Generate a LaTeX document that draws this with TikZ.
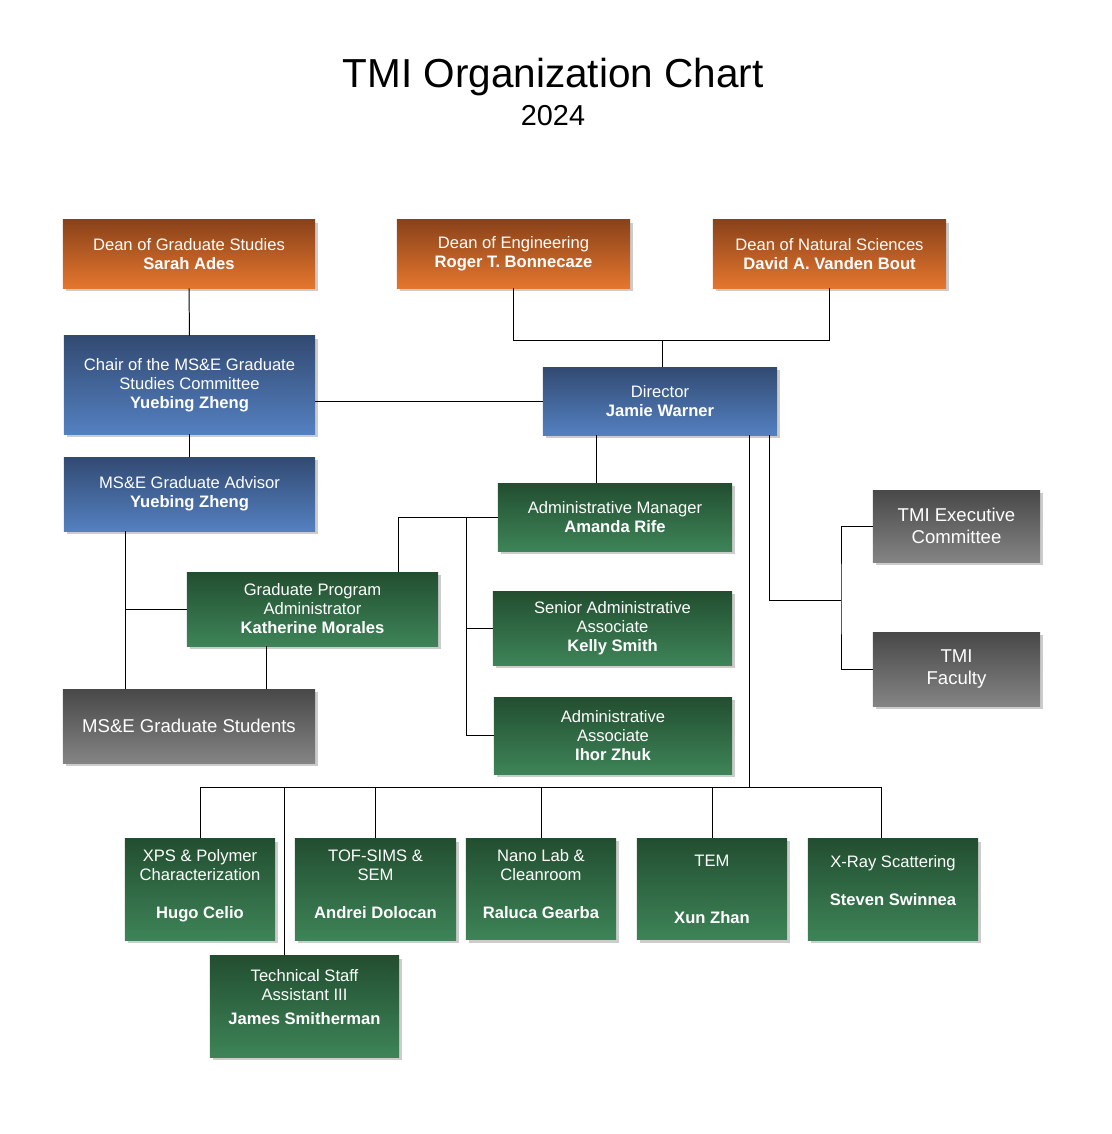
\documentclass[tikz,border=0pt]{standalone}
\usepackage{fontspec}
\setmainfont{Liberation Sans}
\usepackage{tikz}
\usetikzlibrary{calc,shadows}
\definecolor{orangetop}{RGB}{138, 66, 26}
\definecolor{orangebot}{RGB}{228, 118, 46}
\definecolor{bluetop}{RGB}{50, 74, 114}
\definecolor{bluebot}{RGB}{84, 128, 192}
\definecolor{greentop}{RGB}{34, 78, 48}
\definecolor{greenbot}{RGB}{62, 132, 88}
\definecolor{greytop}{RGB}{72, 72, 72}
\definecolor{greybot}{RGB}{132, 132, 132}

\begin{document}
\begin{tikzpicture}[x=0.025cm,y=-0.025cm,
  orgbox/.style={text=white,align=center,inner sep=2pt,
    font=\fontsize{11.8}{13.5}\selectfont,
    drop shadow={shadow xshift=2pt,shadow yshift=-2pt,fill=black,opacity=0.2}},
  dean/.style={orgbox,top color=orangetop,bottom color=orangebot,minimum height=1.7cm},
  lead/.style={orgbox,top color=bluetop,bottom color=bluebot},
  staff/.style={orgbox,top color=greentop,bottom color=greenbot},
  group/.style={orgbox,top color=greytop,bottom color=greybot,
    font=\fontsize{13.2}{15.5}\selectfont},
  lab/.style={staff,minimum height=2.54cm},
  wire/.style={black,line width=0.7pt}]
\useasboundingbox (0,0) rectangle (1112,1134);

% title
\node[font=\fontsize{28.8}{32}\selectfont] (title) at (553,77) {TMI Organization Chart};
\node[font=\fontsize{20.5}{24}\selectfont] (year) at (553,116) {2024};

% deans
\node[dean,minimum width=6.3cm] (dgs) at (189,254) {Dean of Graduate Studies\\\textbf{Sarah Ades}};
\node[dean,minimum width=5.825cm] (deng) at (513.5,254) {Dean of Engineering\\\textbf{Roger T. Bonnecaze}};
\node[dean,minimum width=5.825cm] (dns) at (829.5,254) {Dean of Natural Sciences\\\textbf{David A. Vanden Bout}};

% graduate side
\node[lead,minimum width=6.275cm,minimum height=2.45cm] (chair) at (189.5,385) {Chair of the MS\&E Graduate\\Studies Committee\\\textbf{Yuebing Zheng}};
\node[lead,minimum width=5.85cm,minimum height=1.7cm] (director) at (660,401) {Director\\\textbf{Jamie Warner}};
\node[lead,minimum width=6.275cm,minimum height=1.85cm] (advisor) at (189.5,494) {MS\&E Graduate Advisor\\\textbf{Yuebing Zheng}};
\node[staff,minimum width=6.275cm,minimum height=1.85cm] (gradprog) at (312.5,609) {Graduate Program\\Administrator\\\textbf{Katherine Morales}};
\node[group,minimum width=6.3cm,minimum height=1.85cm] (students) at (189,726) {MS\&E Graduate Students};

% admin staff
\node[staff,minimum width=5.85cm,minimum height=1.7cm] (adminmgr) at (615,517) {Administrative Manager\\\textbf{Amanda Rife}};
\node[staff,minimum width=5.975cm,minimum height=1.85cm] (senior) at (612.5,628) {Senior Administrative\\Associate\\\textbf{Kelly Smith}};
\node[staff,minimum width=5.95cm,minimum height=1.925cm] (assoc) at (613,735.5) {Administrative\\Associate\\\textbf{Ihor Zhuk}};

% committees
\node[group,minimum width=4.175cm,minimum height=1.8cm] (exec) at (956.5,526) {TMI Executive\\Committee};
\node[group,minimum width=4.175cm,minimum height=1.85cm] (faculty) at (956.5,669) {TMI\\Faculty};

% labs
\node[lab,minimum width=3.75cm] (xps) at (200,889.5) {XPS \& Polymer\\Characterization\\[13.5pt]\textbf{Hugo Celio}\\[-6pt]\mbox{}};
\node[lab,minimum width=4.025cm] (tof) at (375.5,889.5) {TOF-SIMS \&\\SEM\\[13.5pt]\textbf{Andrei Dolocan}\\[-6pt]\mbox{}};
\node[lab,minimum width=3.75cm] (nano) at (541,889) {Nano Lab \&\\Cleanroom\\[13.5pt]\textbf{Raluca Gearba}\\[-6pt]\mbox{}};
\node[lab,minimum width=3.75cm] (tem) at (712,889) {TEM\\~\\~\\\textbf{Xun Zhan}};
\node[lab,minimum width=4.25cm] (xray) at (893,889.5) {X-Ray Scattering\\~\\\textbf{Steven Swinnea}\\~};
\node[lab,minimum width=4.725cm] (tech) at (304.5,1006.5) {Technical Staff\\Assistant III\\[3pt]\textbf{James Smitherman}\\~};

% branch points
\coordinate (topbus) at (662,340);
\coordinate (mgrdrop) at (596,435);
\coordinate (labdrop) at (749,435);
\coordinate (labbus) at (749,787);
\coordinate (facdrop) at (769,435);
\coordinate (facjoin) at (841,600);
\coordinate (gpjoin) at (398,517);
\coordinate (staffbus) at (466,517);
\coordinate (advdrop) at (125,531);
\coordinate (gpdrop) at (266,646);

% connectors
\draw[wire] (dgs.south) -- (chair.north);
\draw[wire] (chair.south) -- (advisor.north);
\draw[wire] (deng.south) -- (deng.south |- topbus) -- (dns.south |- topbus) -- (dns.south);
\draw[wire] (topbus) -- (topbus |- director.north);
\draw[wire] (director.west) -- (director.west -| chair.east);
\draw[wire] (mgrdrop) -- (mgrdrop |- adminmgr.north);
\draw[wire] (labdrop) -- (labbus);
\draw[wire] (xps.north |- labbus) -- ([xshift=-0.3cm]xray.north |- labbus);
\foreach \b in {xps,tof,nano,tem}
  \draw[wire] (\b.north) -- (\b.north |- labbus);
\draw[wire] ([xshift=-0.3cm]xray.north) -- ([xshift=-0.3cm]xray.north |- labbus);
\draw[wire] ([xshift=-0.49cm]tech.north) -- ([xshift=-0.49cm]tech.north |- labbus);
\draw[wire] (facdrop) |- (facjoin);
\draw[wire] (exec.west) -| (facjoin) |- (faculty.west);
\draw[wire] (adminmgr.west) -- (gpjoin) -- (gpjoin |- gradprog.north);
\draw[wire] (staffbus) |- (assoc.west);
\draw[wire] (staffbus |- senior.west) -- (senior.west);
\draw[wire] (advdrop) -- (advdrop |- students.north);
\draw[wire] (gradprog.west) -- (gradprog.west -| advdrop);
\draw[wire] (gpdrop) -- (gpdrop |- students.north);
\end{tikzpicture}
\end{document}
